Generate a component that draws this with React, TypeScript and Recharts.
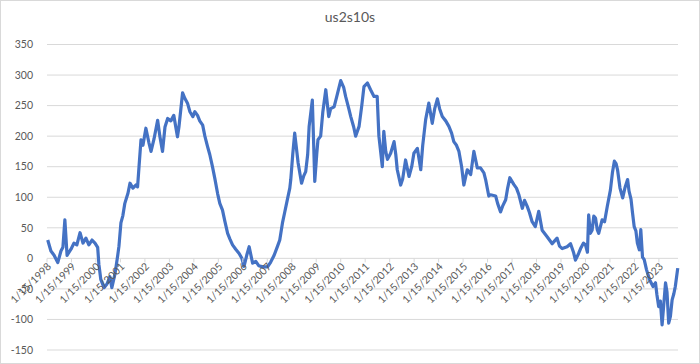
import React from "react";
import { LineChart, Line, XAxis, YAxis, CartesianGrid } from "recharts";

// decimal year of each reading
const dates = [
  1998.07, 1998.2, 1998.33, 1998.48, 1998.61, 1998.69, 1998.77, 1998.86, 1999.02, 1999.14,
  1999.26, 1999.39, 1999.51, 1999.63, 1999.75, 1999.88, 2000.0, 2000.11, 2000.16, 2000.24,
  2000.37, 2000.49, 2000.61, 2000.69, 2000.82, 2000.93, 2000.98, 2001.06, 2001.14, 2001.22,
  2001.35, 2001.43, 2001.55, 2001.67, 2001.74, 2001.8, 2001.88, 2001.96, 2002.08, 2002.2,
  2002.29, 2002.41, 2002.56, 2002.65, 2002.76, 2002.86, 2002.97, 2003.1, 2003.22, 2003.37,
  2003.43, 2003.58, 2003.67, 2003.78, 2003.88, 2004.0, 2004.08, 2004.19, 2004.28, 2004.4,
  2004.49, 2004.6, 2004.69, 2004.8, 2004.9, 2005.01, 2005.1, 2005.21, 2005.31, 2005.42,
  2005.51, 2005.62, 2005.75, 2005.89, 2006.0, 2006.09, 2006.2, 2006.3, 2006.44, 2006.57,
  2006.69, 2006.86, 2007.05, 2007.18, 2007.32, 2007.46, 2007.55, 2007.66, 2007.75, 2007.86,
  2007.96, 2008.0, 2008.08, 2008.16, 2008.3, 2008.44, 2008.53, 2008.61, 2008.69, 2008.75,
  2008.88, 2008.94, 2008.98, 2009.06, 2009.11, 2009.22, 2009.31, 2009.43, 2009.55, 2009.63,
  2009.77, 2009.88, 2010.04, 2010.16, 2010.24, 2010.37, 2010.45, 2010.57, 2010.65, 2010.79,
  2010.9, 2010.99, 2011.13, 2011.26, 2011.4, 2011.53, 2011.6, 2011.67, 2011.74, 2011.8,
  2011.88, 2011.95, 2012.08, 2012.22, 2012.29, 2012.35, 2012.49, 2012.57, 2012.69, 2012.83,
  2012.94, 2013.03, 2013.17, 2013.31, 2013.39, 2013.51, 2013.64, 2013.78, 2013.88, 2013.99,
  2014.08, 2014.19, 2014.33, 2014.46, 2014.57, 2014.66, 2014.77, 2014.87, 2014.98, 2015.07,
  2015.21, 2015.35, 2015.48, 2015.62, 2015.75, 2015.89, 2015.96, 2016.09, 2016.16, 2016.37,
  2016.45, 2016.57, 2016.65, 2016.78, 2016.86, 2016.95, 2017.11, 2017.22, 2017.32, 2017.46,
  2017.55, 2017.66, 2017.75, 2017.86, 2017.99, 2018.13, 2018.27, 2018.48, 2018.57, 2018.68,
  2018.88, 2018.98, 2019.09, 2019.29, 2019.43, 2019.55, 2019.63, 2019.76, 2019.84, 2019.96,
  2020.04, 2020.12, 2020.17, 2020.24, 2020.31, 2020.38, 2020.45, 2020.52, 2020.58, 2020.72,
  2020.82, 2020.93, 2021.06, 2021.14, 2021.22, 2021.29, 2021.35, 2021.45, 2021.56, 2021.65,
  2021.76, 2021.82, 2021.9, 2021.96, 2022.03, 2022.1, 2022.16, 2022.24, 2022.3, 2022.37,
  2022.44, 2022.53, 2022.66, 2022.8, 2022.9, 2022.96, 2023.03, 2023.1, 2023.17, 2023.24,
  2023.31, 2023.37, 2023.44, 2023.51, 2023.58, 2023.65, 2023.71, 2023.81,
];

// 2s10s spread, bp
const spread = [
  30, 12, 5, -7, 12, 18, 63, 5, 15, 25,
  22, 42, 25, 33, 22, 30, 25, 18, -10, -35,
  -48, -42, -30, -48, -25, 5, 20, 58, 70, 90,
  107, 123, 115, 120, 117, 150, 194, 185, 213, 190,
  175, 195, 226, 200, 175, 215, 229, 225, 234, 199,
  215, 271, 262, 254, 240, 232, 240, 234, 225, 218,
  200, 183, 170, 150, 130, 106, 90, 79, 60, 41,
  32, 22, 15, 8, 0, -13, 5, 19, -8, -5,
  -12, -14, -14, -6, 5, 20, 30, 58, 75, 96,
  115, 129, 170, 205, 156, 123, 135, 142, 170, 216,
  259, 180, 126, 170, 194, 200, 240, 276, 232, 245,
  248, 265, 291, 280, 265, 245, 232, 215, 200, 216,
  250, 281, 287, 276, 265, 265, 200, 175, 150, 208,
  175, 162, 172, 191, 170, 145, 120, 130, 161, 134,
  150, 172, 180, 145, 185, 227, 254, 221, 245, 261,
  245, 232, 225, 216, 205, 191, 185, 175, 150, 120,
  145, 137, 175, 148, 148, 140, 129, 102, 104, 102,
  90, 76, 85, 96, 115, 132, 121, 115, 104, 82,
  95, 85, 75, 60, 52, 77, 46, 35, 30, 24,
  33, 20, 16, 19, 24, 10, -3, 8, 16, 25,
  22, 10, 71, 41, 46, 69, 66, 47, 41, 63,
  60, 85, 112, 140, 159, 155, 145, 115, 99, 115,
  129, 110, 97, 75, 52, 45, 25, 14, 47, 2,
  -2, -18, -35, -46, -40, -60, -79, -70, -109, -75,
  -40, -55, -106, -95, -68, -58, -46, -16,
];

const yTicks = [-150, -100, -50, 0, 50, 100, 150, 200, 250, 300, 350];
const yearTicks = [
  1998, 1999, 2000, 2001, 2002, 2003, 2004, 2005, 2006, 2007, 2008, 2009, 2010,
  2011, 2012, 2013, 2014, 2015, 2016, 2017, 2018, 2019, 2020, 2021, 2022, 2023,
].map((y) => y + 0.04);

const data = dates.map((t, i) => ({ t, v: spread[i] }));

const W = 700;
const H = 364;
const TOP = 44.5;
const AXIS_H = 14;
const PLOT_H = H - TOP - AXIS_H;
// Excel puts the category axis where the value axis crosses 0
const ZERO_Y = TOP + (PLOT_H * 350) / 500;

const FONT = "Lato, 'Open Sans', sans-serif";
const TEXT = "#595959";

function DateTick({ x, payload }: any) {
  return (
    <g>
      <line x1={x} x2={x} y1={ZERO_Y} y2={ZERO_Y + 4} stroke="#d9d9d9" />
      <text
        x={x + 3}
        y={ZERO_Y + 7}
        transform={`rotate(-45, ${x + 3}, ${ZERO_Y + 7})`}
        textAnchor="end"
        dominantBaseline="middle"
        fontSize={10.5}
        fill={TEXT}
        fontFamily={FONT}
      >
        {`1/15/${Math.floor(payload.value)}`}
      </text>
    </g>
  );
}

export default function App() {
  return (
    <div
      style={{
        position: "absolute",
        left: 0,
        top: 0,
        width: W,
        height: H,
        boxSizing: "border-box",
        border: "1px solid #d9d9d9",
        background: "#fff",
      }}
    >
      <div
        style={{
          position: "absolute",
          top: 7,
          width: "100%",
          textAlign: "center",
          fontFamily: FONT,
          fontSize: 14,
          color: TEXT,
        }}
      >
        us2s10s
      </div>
      <div style={{ position: "absolute", left: -1, top: -1 }}>
        <LineChart
          width={W}
          height={H}
          data={data}
          margin={{ top: TOP, right: 22, bottom: 0, left: 0 }}
        >
          <CartesianGrid vertical={false} stroke="#d9d9d9" />
          <XAxis
            dataKey="t"
            type="number"
            domain={[1998.04, 2023.82]}
            ticks={yearTicks}
            height={AXIS_H}
            axisLine={false}
            tickLine={false}
            tick={<DateTick />}
            interval={0}
          />
          <YAxis
            domain={[-150, 350]}
            ticks={yTicks}
            width={47}
            axisLine={false}
            tickLine={false}
            tick={{ fontSize: 10.5, fill: TEXT, fontFamily: FONT }}
            tickMargin={8}
          />
          <Line
            type="linear"
            dataKey="v"
            stroke="#4472C4"
            strokeWidth={3.2}
            strokeLinejoin="round"
            dot={false}
            isAnimationActive={false}
          />
        </LineChart>
      </div>
    </div>
  );
}
